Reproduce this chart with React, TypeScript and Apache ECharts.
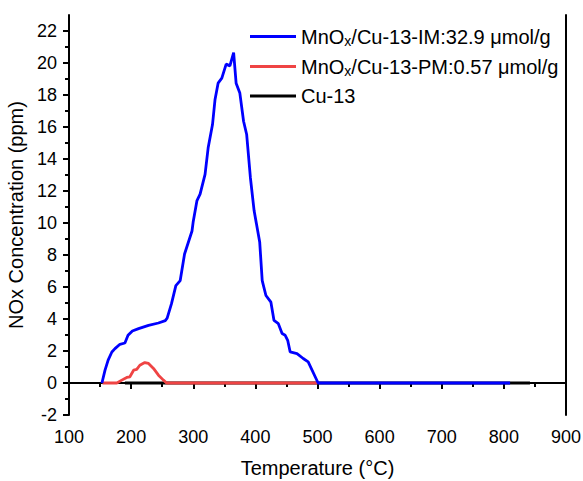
import React, { useEffect, useRef } from "react";
import * as echarts from "echarts";

const imTemps = [153, 158, 163, 169, 174, 182, 190, 195, 202, 212, 228, 244, 255, 258, 265, 272, 279, 286, 298, 300, 306, 311, 319, 324, 331, 335, 340, 346, 353, 359, 365, 369, 375, 381, 386, 392, 398, 407, 411, 417, 425, 430, 437, 443, 448, 452, 456, 467, 477, 485, 501, 810];
const imValues = [0, 0.8, 1.43, 1.94, 2.15, 2.42, 2.5, 2.98, 3.25, 3.4, 3.6, 3.75, 3.9, 4.05, 4.96, 6.09, 6.4, 8.06, 9.5, 10.1, 11.4, 11.8, 13.04, 14.7, 16.15, 17.7, 18.74, 19.05, 19.93, 19.82, 20.65, 18.74, 18.12, 16.36, 15.53, 12.83, 10.76, 8.79, 6.4, 5.47, 5.05, 3.91, 3.71, 3.09, 2.98, 2.67, 1.94, 1.84, 1.53, 1.32, 0, 0];

const pmTemps = [154, 177, 185, 193, 198, 204, 209, 214, 222, 228, 236, 244, 252, 257, 500];
const pmValues = [0, 0, 0.18, 0.35, 0.39, 0.8, 0.85, 1.11, 1.28, 1.22, 0.91, 0.49, 0.18, 0, 0];

const cuTemps = [190, 400, 600, 842];
const cuValues = [0, 0, 0, 0];

const yMajorTicks = [-2, 0, 2, 4, 6, 8, 10, 12, 14, 16, 18, 20, 22];
const yMinorTicks = [-1, 1, 3, 5, 7, 9, 11, 13, 15, 17, 19, 21];

const seriesNames = [
  "MnO{sub|x}/Cu-13-IM:32.9 μmol/g",
  "MnO{sub|x}/Cu-13-PM:0.57 μmol/g",
  "Cu-13",
];

const FONT = "'Liberation Sans', Arial, sans-serif";

function pairs(xs: number[], ys: number[]) {
  return xs.map((x, i) => [x, ys[i]]);
}

export default function App() {
  const ref = useRef<HTMLDivElement>(null);
  useEffect(() => {
    document.body.style.margin = "0";
    const chart = echarts.init(ref.current!, null, { renderer: "svg" });
    const axisLine = { show: true, lineStyle: { color: "#000", width: 2 } };
    chart.setOption({
      animation: false,
      backgroundColor: "#fff",
      grid: { left: 69, top: 15, width: 497, height: 400, containLabel: false, outerBoundsMode: "none" },
      legend: {
        data: seriesNames,
        orient: "vertical",
        left: 250,
        top: 25,
        padding: 0,
        icon: "rect",
        itemWidth: 46,
        itemHeight: 3,
        itemGap: 7,
        textStyle: {
          fontFamily: FONT,
          fontSize: 20,
          color: "#000",
          lineHeight: 22,
          rich: {
            sub: { fontFamily: FONT, fontSize: 14, color: "#000", lineHeight: 14, padding: [9, 0, 0, 0] },
          },
        },
      },
      xAxis: [
        {
          type: "value",
          min: 100,
          max: 900,
          interval: 100,
          position: "bottom",
          name: "Temperature (°C)",
          nameLocation: "middle",
          nameGap: 43,
          nameTextStyle: { fontFamily: FONT, fontSize: 20, color: "#000" },
          axisLine,
          axisTick: { show: true, inside: false, length: 6, lineStyle: { color: "#000", width: 2 } },
          minorTick: { show: true, splitNumber: 2, length: 4, lineStyle: { color: "#000", width: 2 } },
          axisLabel: { fontFamily: FONT, fontSize: 18, color: "#000", margin: 13 },
          splitLine: { show: false },
        },
        {
          type: "value",
          min: 100,
          max: 900,
          position: "top",
          axisLine,
          axisTick: { show: false },
          axisLabel: { show: false },
          splitLine: { show: false },
        },
      ],
      yAxis: [
        {
          type: "value",
          min: -2,
          max: 23,
          position: "left",
          name: "NOx Concentration (ppm)",
          nameLocation: "middle",
          nameGap: 40,
          nameTextStyle: { fontFamily: FONT, fontSize: 20, color: "#000" },
          axisLine,
          axisTick: { show: true, inside: false, length: 6, customValues: yMajorTicks, lineStyle: { color: "#000", width: 2 } },
          axisLabel: { fontFamily: FONT, fontSize: 18, color: "#000", margin: 12, customValues: yMajorTicks },
          splitLine: { show: false },
        },
        {
          type: "value",
          min: -2,
          max: 23,
          position: "left",
          axisLine: { show: false },
          axisTick: { show: true, inside: false, length: 4, customValues: yMinorTicks, lineStyle: { color: "#000", width: 2 } },
          axisLabel: { show: false },
          splitLine: { show: false },
        },
        {
          type: "value",
          min: -2,
          max: 23,
          position: "right",
          axisLine,
          axisTick: { show: false },
          axisLabel: { show: false },
          splitLine: { show: false },
        },
      ],
      series: [
        {
          name: seriesNames[2],
          type: "line",
          data: pairs(cuTemps, cuValues),
          symbol: "none",
          lineStyle: { color: "#000", width: 2.8 },
          itemStyle: { color: "#000" },
          z: 2,
        },
        {
          name: seriesNames[1],
          type: "line",
          data: pairs(pmTemps, pmValues),
          symbol: "none",
          lineStyle: { color: "#EF4444", width: 2.8 },
          itemStyle: { color: "#EF4444" },
          z: 3,
        },
        {
          name: seriesNames[0],
          type: "line",
          data: pairs(imTemps, imValues),
          symbol: "none",
          lineStyle: { color: "#0000FF", width: 2.8 },
          itemStyle: { color: "#0000FF" },
          z: 4,
        },
      ],
    });
    return () => chart.dispose();
  }, []);
  return <div ref={ref} style={{ width: 583, height: 481 }} />;
}
